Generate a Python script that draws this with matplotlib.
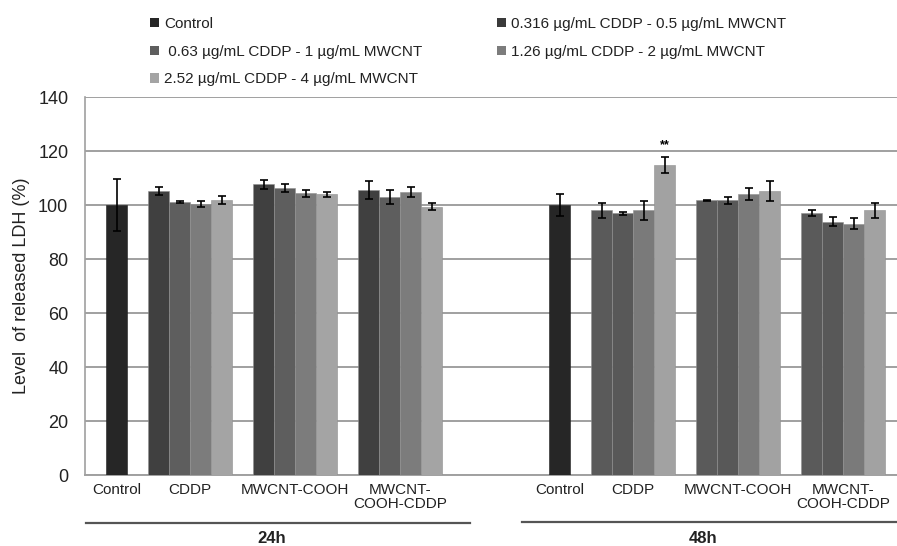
import matplotlib
matplotlib.use("Agg")
import matplotlib.pyplot as plt
from matplotlib.patches import Patch
from matplotlib.transforms import blended_transform_factory

plt.rcParams['font.family'] = ['Liberation Sans', 'DejaVu Sans']

# ---------------- data ----------------
timepoints = ["24h", "48h"]
categories = ["Control", "CDDP", "MWCNT-COOH", "MWCNT-\nCOOH-CDDP"]
series_labels = ["0.316 µg/mL CDDP - 0.5 µg/mL MWCNT",
                 " 0.63 µg/mL CDDP - 1 µg/mL MWCNT",
                 "1.26 µg/mL CDDP - 2 µg/mL MWCNT",
                 "2.52 µg/mL CDDP - 4 µg/mL MWCNT"]

control_24 = 100.0
control_24_err = 9.6
control_48 = 100.0
control_48_err = 3.9

# rows: CDDP, MWCNT-COOH, MWCNT-COOH-CDDP ; cols: 4 concentrations
vals_24 = [[105.2, 101.1, 100.3, 101.9],
           [107.6, 106.3, 104.3, 104.0],
           [105.6, 103.0, 104.8, 99.4]]
errs_24 = [[1.6, 0.2, 1.2, 1.5],
           [1.8, 1.5, 1.4, 1.0],
           [3.3, 2.5, 2.0, 1.3]]
vals_48 = [[98.1, 96.9, 98.0, 114.7],
           [101.8, 101.7, 104.0, 105.1],
           [97.0, 93.8, 93.1, 98.1]]
errs_48 = [[2.8, 0.6, 3.6, 3.0],
           [0.2, 1.3, 2.2, 3.7],
           [1.1, 1.7, 2.0, 2.8]]

significance_text = "**"

control_color = "#262626"
colors_24 = ["#404040", "#5e5e5e", "#7c7c7c", "#a4a4a4"]
colors_48 = ["#5a5a5a", "#585858", "#7a7a7a", "#a2a2a2"]
legend_colors = ["#3a3a3a", "#5e5e5e", "#7c7c7c", "#a4a4a4"]

yticks = [0, 20, 40, 60, 80, 100, 120, 140]

# ---------------- layout ----------------
W, H = 897, 546
fig = plt.figure(figsize=(W / 100, H / 100), dpi=100)
ax = fig.add_axes([85 / W, (H - 475) / H, (W - 85) / W, (475 - 97) / H])

bw = 1.0
time_offset = [0.0, 21.1]
control_left = 1.0
group_lefts = [3.0, 8.0, 13.0]

err_kw = dict(ecolor="black", elinewidth=1.2, capsize=3.2, capthick=1.2)

tick_pos = []
tick_lab = []
for ti, tp in enumerate(timepoints):
    off = time_offset[ti]
    cval = control_24 if ti == 0 else control_48
    cerr = control_24_err if ti == 0 else control_48_err
    cx = off + control_left + bw / 2
    ax.bar(cx, cval, width=bw, color=control_color, yerr=cerr,
           error_kw=err_kw, zorder=3, edgecolor="#1e1e1e", linewidth=0.4)
    tick_pos.append(cx)
    tick_lab.append(categories[0])
    vals = vals_24 if ti == 0 else vals_48
    errs = errs_24 if ti == 0 else errs_48
    cols = colors_24 if ti == 0 else colors_48
    for gi, gl in enumerate(group_lefts):
        for si in range(4):
            x = off + gl + si * bw + bw / 2
            ax.bar(x, vals[gi][si], width=bw, color=cols[si], yerr=errs[gi][si],
                   error_kw=err_kw, zorder=3, edgecolor="#909090", linewidth=0.4)
        tick_pos.append(off + gl + 2 * bw)
        tick_lab.append(categories[gi + 1])

# significance mark above 48h CDDP highest concentration
sx = time_offset[1] + group_lefts[0] + 3 * bw + bw / 2
ax.text(sx, vals_48[0][3] + errs_48[0][3] + 2.2, significance_text,
        ha="center", va="bottom", fontsize=9, fontweight="bold")

ax.set_xlim(0, (W - 85) / 21)
ax.set_ylim(0, 140)
ax.set_yticks(yticks)
ax.set_yticklabels([str(v) for v in yticks], fontsize=13, color="#222222")
ax.yaxis.grid(True, color="#a0a0a0", linewidth=1.4, zorder=0)
ax.set_axisbelow(True)
ax.tick_params(axis="y", length=0, pad=12)
ax.set_xticks(tick_pos)
ax.set_xticklabels(tick_lab, fontsize=11, color="#222222", linespacing=1.0)
ax.tick_params(axis="x", length=0, pad=6)

for s in ["top", "right"]:
    ax.spines[s].set_visible(False)
ax.spines["left"].set_color("#a0a0a0")
ax.spines["left"].set_linewidth(1.2)
ax.spines["bottom"].set_color("#a0a0a0")
ax.spines["bottom"].set_linewidth(1.4)

ax.set_ylabel("Level  of released LDH (%)", fontsize=13, color="#222222", labelpad=6)

# time-point brackets
tr = blended_transform_factory(ax.transData, ax.transAxes)
line_spans = [(0.05, 18.33, -0.127), (20.8, (W - 85) / 21, -0.124)]
label_y = -0.167
for ti, tp in enumerate(timepoints):
    x0, x1, ly = line_spans[ti]
    ax.plot([x0, x1], [ly, ly], transform=tr, color="#555555", linewidth=1.6,
            clip_on=False)
    ax.text((x0 + x1) / 2 - 0.3, label_y, tp, transform=tr, ha="center",
            va="center", fontsize=12, fontweight="bold", color="#222222")

# legend
handles = [Patch(facecolor=control_color, label="Control")]
handles += [Patch(facecolor=legend_colors[i], label=series_labels[i]) for i in range(4)]
order = [0, 2, 4, 1, 3]
leg = fig.legend([handles[i] for i in order], [handles[i].get_label() for i in order],
                 loc="upper left", bbox_to_anchor=(150 / W, 1 - 17 / H), ncol=2,
                 frameon=False, fontsize=11, handlelength=0.6, handleheight=0.6,
                 handletextpad=0.3, columnspacing=4.9, labelspacing=0.9,
                 borderaxespad=0, borderpad=0)
for t in leg.get_texts():
    t.set_color("#222222")

fig.savefig("out.png", dpi=100)
